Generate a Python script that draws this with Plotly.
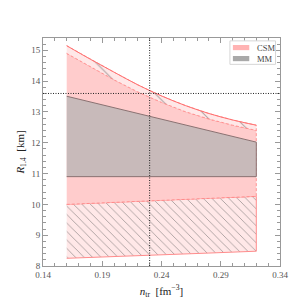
import plotly.graph_objects as go
import numpy as np

# ---- data ----
x_top = [0.16, 0.18, 0.20, 0.22, 0.24, 0.26, 0.28, 0.30, 0.32]
csm_upper = [15.15, 14.71, 14.29, 13.88, 13.52, 13.21, 12.95, 12.74, 12.57]
csm_upper_inner = [14.90, 14.46, 14.04, 13.65, 13.31, 13.01, 12.77, 12.57, 12.40]

x_bot = [0.16, 0.20, 0.24, 0.28, 0.32]
csm_lower_inner = [10.00, 10.06, 10.13, 10.20, 10.26]
csm_lower = [8.25, 8.30, 8.36, 8.42, 8.48]

x_mm = [0.16, 0.32]
mm_upper = [13.51, 12.02]
mm_lower = [10.90, 10.90]

n_tr_ref = 0.23
r_ref = 13.6

x_ticks = [0.14, 0.19, 0.24, 0.29, 0.34]
y_ticks = [8, 9, 10, 11, 12, 13, 14, 15]

legend_names = ["CSM", "MM"]
legend_colors = ["#ffb3b3", "#a9a9a9"]

FONT = "Liberation Serif"

# plot-area pixel geometry (for the hand-drawn legend)
L, R, T, B = 33, 272, 30, 268
def px(xp):
    return (xp - L) / (R - L)
def py(yp):
    return 1 - (yp - T) / (B - T)

def band(xs, lo, hi):
    return list(xs) + list(xs)[::-1], list(lo) + list(hi)[::-1]

fig = go.Figure()

# lower hatched band
bx, by = band(x_bot, csm_lower, csm_lower_inner)
fig.add_trace(go.Scatter(x=bx, y=by, fill="toself", mode="lines",
                         fillcolor="#ffe8e8",
                         fillpattern=dict(shape="\\", size=6, solidity=0.15,
                                          fgcolor="#555555", bgcolor="#ffe8e8"),
                         line=dict(color="#ff8c8c", width=1),
                         showlegend=False, hoverinfo="skip"))

# middle solid CSM band
mid_lo = list(np.interp(x_top, x_bot, csm_lower_inner))
bx, by = band(x_top, mid_lo, csm_upper_inner)
fig.add_trace(go.Scatter(x=bx, y=by, fill="toself", mode="lines",
                         fillcolor="#ffcccc",
                         line=dict(color="#ff8080", width=0.8, dash="3px,2px"),
                         showlegend=False, hoverinfo="skip"))

# upper hatched band
bx, by = band(x_top, csm_upper_inner, csm_upper)
fig.add_trace(go.Scatter(x=bx, y=by, fill="toself", mode="lines",
                         fillcolor="#ffe8e8",
                         fillpattern=dict(shape="\\", size=20, solidity=0.05,
                                          fgcolor="#555555", bgcolor="#ffe8e8"),
                         line=dict(color="#ff8080", width=0.8, dash="3px,2px"),
                         showlegend=False, hoverinfo="skip"))
fig.add_trace(go.Scatter(x=x_top, y=csm_upper, mode="lines",
                         line=dict(color="#ff7070", width=1, shape="spline"),
                         showlegend=False, hoverinfo="skip"))

# MM band
bx, by = band(x_mm, mm_lower, mm_upper)
fig.add_trace(go.Scatter(x=bx, y=by, fill="toself", mode="lines",
                         fillcolor="#c8baba",
                         line=dict(color="#8a7272", width=1),
                         showlegend=False, hoverinfo="skip"))

fig.add_shape(type="line", x0=0.14, x1=0.34, y0=r_ref, y1=r_ref,
              line=dict(color="#222", width=1, dash="1px,1.5px"))
fig.add_shape(type="line", x0=n_tr_ref, x1=n_tr_ref, y0=8, y1=15.4,
              line=dict(color="#222", width=1, dash="1px,1.5px"))

# hand-drawn legend box
fig.add_shape(type="rect", xref="paper", yref="paper",
              x0=px(221.5), x1=px(267.5), y0=py(57.5), y1=py(33),
              line=dict(color="#d6d6d6", width=1), fillcolor="white")
for i, (name, col) in enumerate(zip(legend_names, legend_colors)):
    yc = 40 + i * 11.5
    fig.add_shape(type="rect", xref="paper", yref="paper",
                  x0=px(224.5), x1=px(241), y0=py(yc + 2.7), y1=py(yc - 2.7),
                  line=dict(width=0), fillcolor=col)
    fig.add_annotation(xref="paper", yref="paper", x=px(246.5), y=py(yc),
                       xanchor="left", yanchor="middle", text=name,
                       showarrow=False,
                       font=dict(family=FONT, size=8.5, color="#444"))

axis_common = dict(showline=True, linecolor="#999", linewidth=1, mirror="allticks",
                   ticks="inside", ticklen=5, tickcolor="#999", showgrid=False,
                   zeroline=False, tickfont=dict(family=FONT, size=9, color="#555"))

fig.update_xaxes(range=[0.14, 0.34], tickvals=x_ticks,
                 ticktext=[f"{v:.2f}" for v in x_ticks],
                 minor=dict(ticks="inside", ticklen=3, tickcolor="#999", dtick=0.01, tick0=0.14),
                 title=dict(text="<i>n</i><sub>tr</sub>  [fm<sup>−3</sup>]",
                            font=dict(family=FONT, size=11, color="#222"), standoff=8),
                 **axis_common)
fig.update_yaxes(range=[8, 15.4], tickvals=y_ticks,
                 minor=dict(ticks="inside", ticklen=3, tickcolor="#999", dtick=0.2, tick0=8),
                 title=dict(text="<i>R</i><sub>1.4</sub>  [km]",
                            font=dict(family=FONT, size=11, color="#222"), standoff=4),
                 **axis_common)

fig.update_layout(width=299, height=299,
                  margin=dict(l=L, r=299 - R, t=T, b=299 - B),
                  paper_bgcolor="white", plot_bgcolor="white",
                  showlegend=False)

fig.write_html("out.html")
